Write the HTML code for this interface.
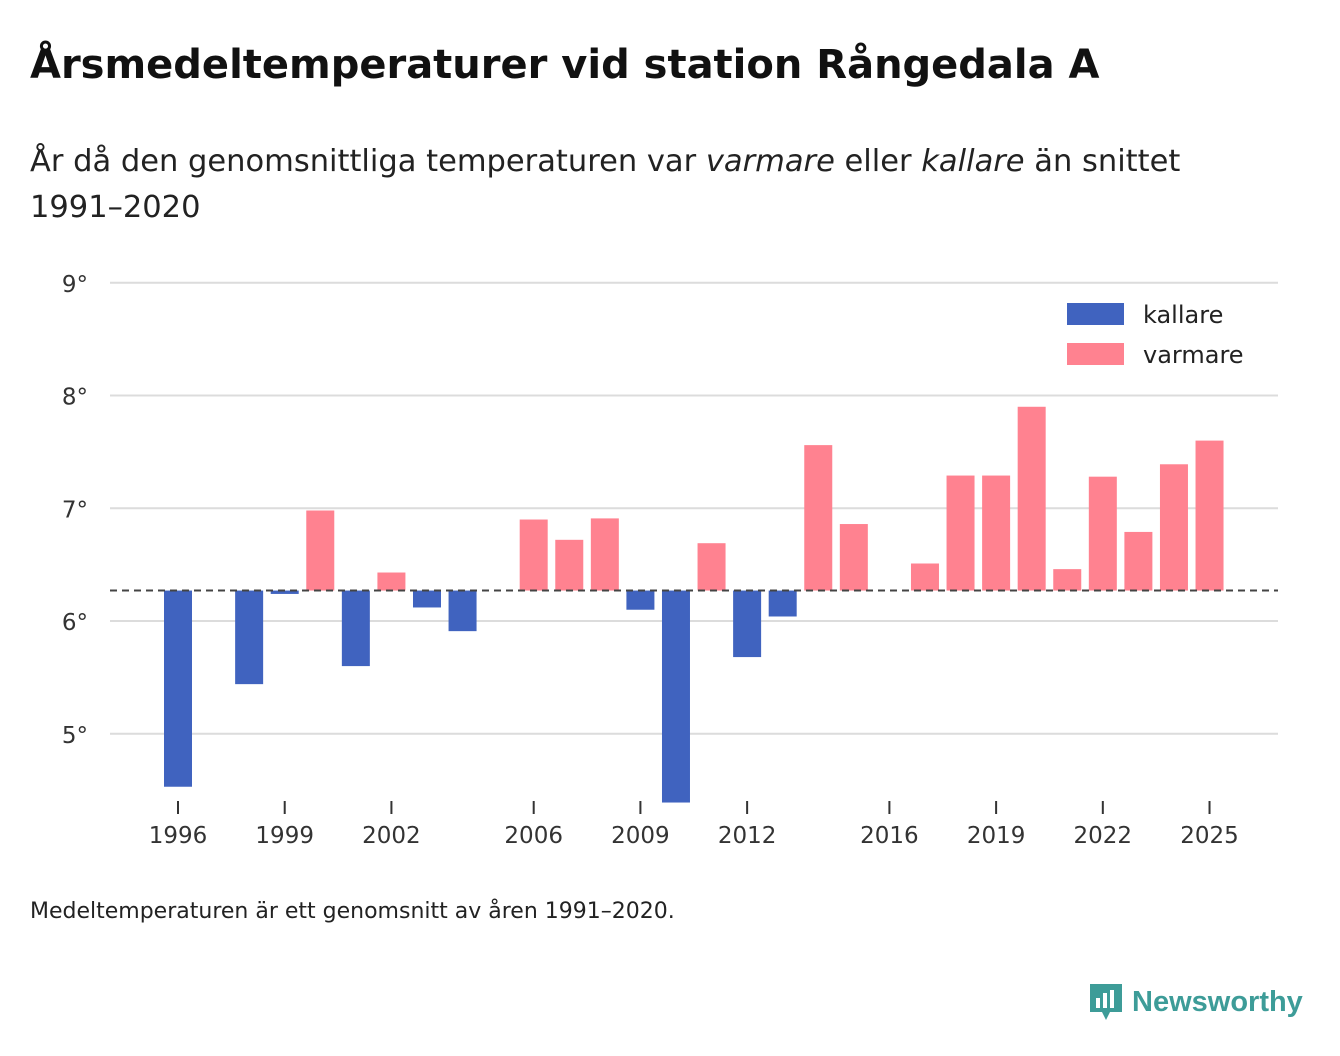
<!DOCTYPE html>
<html><head><meta charset="utf-8">
<style>
body{margin:0;width:1340px;height:1056px;background:#fff;font-family:"DejaVu Sans","Liberation Sans",sans-serif;color:#111;overflow:hidden;position:relative}
#title{position:absolute;left:30px;top:42px;font-size:40px;font-weight:bold;margin:0}
#sub{position:absolute;left:30px;top:139px;font-size:30.5px;line-height:46px;color:#222;width:1290px}
#foot{position:absolute;left:30px;top:899px;font-size:22px;color:#222}
#logo{position:absolute;left:1088px;top:982px;font-size:29px;font-weight:bold;color:#3d9c98;display:flex;align-items:center;gap:8px;font-family:"Liberation Sans",sans-serif}
svg{position:absolute;left:0;top:0}
</style></head><body>
<h1 id="title">Årsmedeltemperaturer vid station Rångedala A</h1>
<div id="sub">År då den genomsnittliga temperaturen var <i>varmare</i> eller <i>kallare</i> än snittet<br>1991–2020</div>
<div id="foot">Medeltemperaturen är ett genomsnitt av åren 1991–2020.</div>
<div id="logo"><svg width="36" height="40" viewBox="0 0 36 40" style="position:static"><path d="M2 2h32v28H22l-4 8-4-8H2z" fill="#3d9c98"/><rect x="8" y="16" width="4" height="10" fill="#fff"/><rect x="15" y="11" width="4" height="15" fill="#fff"/><rect x="22" y="8" width="4" height="18" fill="#fff"/></svg><span>Newsworthy</span></div>
<svg id="chart" width="1340" height="1056"></svg>
<script>
const years=[1996,1997,1998,1999,2000,2001,2002,2003,2004,2005,2006,2007,2008,2009,2010,2011,2012,2013,2014,2015,2016,2017,2018,2019,2020,2021,2022,2023,2024,2025];
const temps=[4.53,null,5.44,6.24,6.98,5.60,6.43,6.12,5.91,null,6.90,6.72,6.91,6.10,4.39,6.69,5.68,6.04,7.56,6.86,null,6.51,7.29,7.29,7.90,6.46,7.28,6.79,7.39,7.60];
const baseline=6.27;
const yTicks=[5,6,7,8,9];
const xTicks=[1996,1999,2002,2006,2009,2012,2016,2019,2022,2025];
const svg=document.getElementById('chart');
const NS='http://www.w3.org/2000/svg';
const FF='DejaVu Sans, Liberation Sans, sans-serif';
const y=v=>621-(v-6)*112.75;
const x=yr=>178+(yr-1996)*35.57;
function el(t,a,txt){const e=document.createElementNS(NS,t);for(const k in a)e.setAttribute(k,a[k]);if(txt!=null)e.textContent=txt;svg.appendChild(e);return e;}
yTicks.forEach(t=>{
  const g=el('line',{x1:110,x2:1278,y1:y(t),y2:y(t),stroke:'#dcdcdc','stroke-width':2});
  
  
  const l=el('text',{x:88,y:y(t)+9,'text-anchor':'end','font-size':23,fill:'#333','font-family':FF},t+'°');
  
  
});
years.forEach((yr,i)=>{
  const v=temps[i]; if(v==null)return;
  const top=y(Math.max(v,baseline)),bot=y(Math.min(v,baseline));
  const r=el('rect',{x:x(yr)-14,y:top,width:28,height:Math.max(bot-top,1),fill:v<baseline?'#4063bf':'#ff8290'});
  
  
});
const bl=el('line',{x1:110,x2:1278,y1:y(baseline),y2:y(baseline),stroke:'#444','stroke-width':2,'stroke-dasharray':'7,5'});


xTicks.forEach(t=>{
  const tk=el('line',{x1:x(t),x2:x(t),y1:801,y2:814,stroke:'#333','stroke-width':2});
  
  
  const l=el('text',{x:x(t),y:843,'text-anchor':'middle','font-size':23,fill:'#333','font-family':FF},t);
  
  
});
[['kallare','#4063bf',314],['varmare','#ff8290',354]].forEach(([n,c,yy])=>{
  const r=el('rect',{x:1067,y:yy-11,width:57,height:22,fill:c});
  
  
  const t=el('text',{x:1143,y:yy+9,'font-size':24,fill:'#222','font-family':FF},n);
  
  
});
</script>
</body></html>
